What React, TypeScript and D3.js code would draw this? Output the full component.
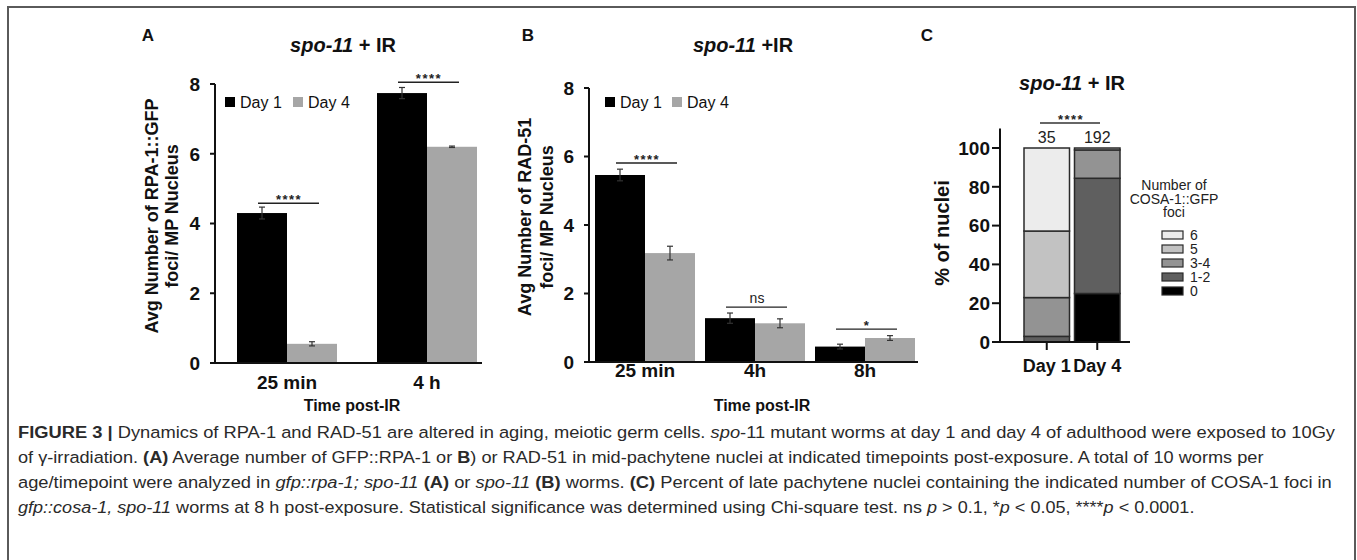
import React, { useLayoutEffect, useRef, useState } from "react";
import * as d3 from "d3";

// panel A: RPA-1::GFP foci
const groupsA = ["25 min", "4 h"];
const day1A = [4.3, 7.74];
const day4A = [0.55, 6.2];
const errDay1A = [0.17, 0.16];
const errDay4A = [0.06, 0.02];
const sigA = ["****", "****"];
const sigLevelA = [4.58, 8.05];

// panel B: RAD-51 foci
const groupsB = ["25 min", "4h", "8h"];
const day1B = [5.46, 1.28, 0.45];
const day4B = [3.18, 1.13, 0.7];
const errDay1B = [0.17, 0.15, 0.07];
const errDay4B = [0.2, 0.13, 0.07];
const sigB = ["****", "ns", "*"];
const sigLevelB = [5.81, 1.6, 0.96];

const seriesNames = ["Day 1", "Day 4"];
const yTicksAB = [0, 2, 4, 6, 8];

// panel C: COSA-1::GFP foci, % of nuclei
const daysC = ["Day 1", "Day 4"];
const fociKeys = ["0", "1-2", "3-4", "5", "6"];
const fociDay1 = [0, 2.9, 20.0, 34.3, 42.8];
const fociDay4 = [25.0, 59.4, 14.6, 1.0, 0];
const nucleiCounts = ["35", "192"];
const yTicksC = [0, 20, 40, 60, 80, 100];

const captionLines: [string, string][][] = [
  [["b", "FIGURE 3 | "], ["n", "Dynamics of RPA-1 and RAD-51 are altered in aging, meiotic germ cells. "], ["i", "spo"], ["n", "-11 mutant worms at day 1 and day 4 of adulthood were exposed to 10Gy"]],
  [["n", "of \u03b3-irradiation. "], ["b", "(A)"], ["n", " Average number of GFP::RPA-1 or "], ["b", "B"], ["n", ") or RAD-51 in mid-pachytene nuclei at indicated timepoints post-exposure. A total of 10 worms per"]],
  [["n", "age/timepoint were analyzed in "], ["i", "gfp::rpa-1; spo-11"], ["n", " "], ["b", "(A)"], ["n", " or "], ["i", "spo-11"], ["n", " "], ["b", "(B)"], ["n", " worms. "], ["b", "(C)"], ["n", " Percent of late pachytene nuclei containing the indicated number of COSA-1 foci in"]],
  [["i", "gfp::cosa-1, spo-11"], ["n", " worms at 8 h post-exposure. Statistical significance was determined using Chi-square test. ns "], ["i", "p"], ["n", " > 0.1, *"], ["i", "p"], ["n", " < 0.05, ****"], ["i", "p"], ["n", " < 0.0001."]],
];
const captionEnds = [1337, 1265, 1333, 1196];

const FONT = "'Liberation Sans', Arial, sans-serif";
const colors = ["#000000", "#a6a6a6"];
const fociColors = ["#000000", "#5f5f5f", "#939393", "#c2c2c2", "#ececec"];

type BarProps = {
  groups: string[];
  d1: number[];
  d4: number[];
  e1: number[];
  e4: number[];
  sig: string[];
  sigLevel: number[];
  xRange: [number, number];
  padInner: number;
  yRange: [number, number];
  axisX: [number, number];
  labelY: number;
  legendX: number;
  legendGap: number;
};

function GroupedBars(p: BarProps) {
  const x = d3.scaleBand().domain(p.groups).range(p.xRange).paddingInner(p.padInner);
  const xs = d3.scaleBand().domain(seriesNames).range([0, x.bandwidth()]);
  const y = d3.scaleLinear().domain([0, 8]).range(p.yRange);
  const vals = [p.d1, p.d4];
  const errs = [p.e1, p.e4];
  const y0 = y(0);
  return (
    <g fontFamily={FONT}>
      {p.groups.map((g, gi) =>
        seriesNames.map((s, si) => {
          const bx = (x(g) as number) + (xs(s) as number);
          const v = vals[si][gi];
          const e = errs[si][gi];
          const cx = bx + xs.bandwidth() / 2;
          return (
            <g key={g + s}>
              <rect x={bx} y={y(v)} width={xs.bandwidth()} height={y0 - y(v)} fill={colors[si]} />
              <line x1={cx} x2={cx} y1={y(v + e)} y2={y(Math.max(0, v - e))} stroke="#333" strokeWidth={1.2} />
              <line x1={cx - 3} x2={cx + 3} y1={y(v + e)} y2={y(v + e)} stroke="#333" strokeWidth={1.2} />
              <line x1={cx - 3} x2={cx + 3} y1={y(v - e)} y2={y(v - e)} stroke="#333" strokeWidth={1.2} />
            </g>
          );
        })
      )}
      {/* significance */}
      {p.groups.map((g, gi) => {
        const c1 = (x(g) as number) + xs.bandwidth() / 2;
        const c2 = c1 + xs.bandwidth();
        const ly = y(p.sigLevel[gi]);
        const mid = (c1 + c2) / 2 + 2;
        const isNs = p.sig[gi] === "ns";
        return (
          <g key={"sig" + g}>
            <line x1={c1 - 4} x2={c2 + 7} y1={ly} y2={ly} stroke="#222" strokeWidth={1.3} />
            <text
              x={mid}
              y={isNs ? ly - 4 : ly + 1}
              textAnchor="middle"
              fontSize={isNs ? 14 : 13}
              fontWeight={isNs ? "normal" : "bold"}
              letterSpacing={isNs ? 0 : 1.5}
              fill="#222"
            >
              {p.sig[gi]}
            </text>
          </g>
        );
      })}
      {/* axes */}
      <line x1={p.axisX[0]} x2={p.axisX[1]} y1={y0} y2={y0} stroke="#111" strokeWidth={2} />
      <line x1={p.axisX[0] + 3} x2={p.axisX[0] + 3} y1={y0} y2={y(8)} stroke="#111" strokeWidth={2} />
      {yTicksAB.map((t) => (
        <g key={"t" + t}>
          <line x1={p.axisX[0] - 2} x2={p.axisX[0] + 3} y1={y(t)} y2={y(t)} stroke="#111" strokeWidth={2} />
          <text x={p.axisX[0] - 12} y={y(t)} dy="0.36em" textAnchor="end" fontSize={19} fontWeight="bold" fill="#111">
            {t}
          </text>
        </g>
      ))}
      {p.groups.map((g) => (
        <text
          key={"xl" + g}
          x={(x(g) as number) + x.bandwidth() / 2}
          y={p.labelY}
          textAnchor="middle"
          fontSize={19}
          fontWeight="bold"
          fill="#111"
        >
          {g}
        </text>
      ))}
      {/* legend */}
      {seriesNames.map((s, si) => (
        <g key={"lg" + s} transform={`translate(${p.legendX + si * p.legendGap},102)`}>
          <rect x={-5} y={-5} width={10} height={10} fill={colors[si]} />
          <text x={10} y={0} dy="0.36em" fontSize={16} fill="#111">
            {s}
          </text>
        </g>
      ))}
    </g>
  );
}

function StackedC() {
  const x = d3.scaleBand().domain(daysC).range([1024, 1120]).paddingInner(0.099);
  const y = d3.scaleLinear().domain([0, 110]).range([342, 128.6]);
  const rows = daysC.map((d, i) => {
    const vals = i === 0 ? fociDay1 : fociDay4;
    const r: Record<string, number | string> = { day: d };
    fociKeys.forEach((k, ki) => (r[k] = vals[ki]));
    return r;
  });
  const stacked = d3.stack<Record<string, number | string>>().keys(fociKeys)(rows as any);
  const legendY = d3.scalePoint().domain([...fociKeys].reverse()).range([235, 291]);
  return (
    <g fontFamily={FONT}>
      {stacked.map((layer, li) =>
        layer.map((seg, di) => {
          const h = y(seg[0]) - y(seg[1]);
          if (h <= 0) return null;
          return (
            <rect
              key={layer.key + di}
              x={x(daysC[di]) as number}
              y={y(seg[1])}
              width={x.bandwidth()}
              height={h}
              fill={fociColors[li]}
              stroke="#2a2a2a"
              strokeWidth={1.5}
            />
          );
        })
      )}
      {nucleiCounts.map((n, i) => (
        <text key={"n" + n} x={(x(daysC[i]) as number) + x.bandwidth() / 2} y={143} textAnchor="middle" fontSize={16} fill="#222">
          {n}
        </text>
      ))}
      <line x1={1040} x2={1100} y1={123} y2={123} stroke="#333" strokeWidth={1.5} />
      <text x={1071} y={124} textAnchor="middle" fontSize={13} fontWeight="bold" letterSpacing={1.5} fill="#222">
        ****
      </text>
      <line x1={1000} x2={1130} y1={y(0)} y2={y(0)} stroke="#111" strokeWidth={2} />
      <line x1={1000} x2={1000} y1={y(0)} y2={y(110)} stroke="#111" strokeWidth={2} />
      {yTicksC.map((t) => (
        <g key={"c" + t}>
          <line x1={992} x2={1000} y1={y(t)} y2={y(t)} stroke="#111" strokeWidth={2} />
          <text x={990} y={y(t)} dy="0.36em" textAnchor="end" fontSize={19} fontWeight="bold" fill="#111">
            {t}
          </text>
        </g>
      ))}
      {daysC.map((d) => {
        const cx = (x(d) as number) + x.bandwidth() / 2;
        return (
          <g key={"xd" + d}>
            <line x1={cx} x2={cx} y1={y(0)} y2={y(0) + 8} stroke="#111" strokeWidth={2} />
            <text x={cx} y={372} textAnchor="middle" fontSize={18} fontWeight="bold" fill="#111">
              {d}
            </text>
          </g>
        );
      })}
      <text transform="translate(942,233) rotate(-90)" dy="0.36em" textAnchor="middle" fontSize={20} fontWeight="bold" fill="#111">
        % of nuclei
      </text>
      {["Number of", "COSA-1::GFP", "foci"].map((t, i) => (
        <text key={t} x={1174} y={190 + i * 13.5} textAnchor="middle" fontSize={14} fill="#222">
          {t}
        </text>
      ))}
      {[...fociKeys].reverse().map((k) => {
        const li = fociKeys.indexOf(k);
        const ly = legendY(k) as number;
        return (
          <g key={"lc" + k}>
            <rect x={1162} y={ly - 4} width={21} height={8} fill={fociColors[li]} stroke="#2a2a2a" strokeWidth={1.2} />
            <text x={1190} y={ly} dy="0.36em" fontSize={14} fill="#222">
              {k}
            </text>
          </g>
        );
      })}
    </g>
  );
}

function Title({ x, y, rest }: { x: number; y: number; rest: string }) {
  return (
    <text x={x} y={y} textAnchor="middle" fontFamily={FONT} fontSize={20} fontWeight="bold" fill="#111">
      <tspan fontStyle="italic">spo-11</tspan>
      <tspan>{rest}</tspan>
    </text>
  );
}

function YTitle({ x1, x2, y, l1, l2 }: { x1: number; x2: number; y: number; l1: string; l2: string }) {
  return (
    <g fontFamily={FONT} fontSize={18} fontWeight="bold" fill="#111" style={{ whiteSpace: "pre" }}>
      <text transform={`translate(${x1},${y}) rotate(-90)`} dy="0.36em" textAnchor="middle">
        {l1}
      </text>
      <text transform={`translate(${x2},${y}) rotate(-90)`} dy="0.36em" textAnchor="middle">
        {l2}
      </text>
    </g>
  );
}

// caption lines are squeezed horizontally to the widths seen in the figure
function Caption() {
  const refs = useRef<(SVGTextElement | null)[]>([]);
  const [scales, setScales] = useState<number[]>(captionEnds.map(() => 1));
  const x0 = 18;
  useLayoutEffect(() => {
    setScales(
      refs.current.map((el, i) => {
        if (!el) return 1;
        const w = el.getBBox().width;
        return w > 0 ? (captionEnds[i] - x0) / w : 1;
      })
    );
  }, []);
  return (
    <g fontFamily={FONT} fontSize={17} fill="#2a2a2a">
      {captionLines.map((line, li) => (
        <text
          key={li}
          ref={(el) => {
            refs.current[li] = el;
          }}
          transform={`translate(${x0},${438 + li * 25}) scale(${scales[li]},1)`}
          style={{ whiteSpace: "pre" }}
        >
          {line.map(([st, t], ti) => (
            <tspan key={ti} fontWeight={st === "b" ? "bold" : "normal"} fontStyle={st === "i" ? "italic" : "normal"}>
              {t}
            </tspan>
          ))}
        </text>
      ))}
    </g>
  );
}

export default function App() {
  return (
    <svg width={1357} height={560} style={{ position: "absolute", left: 0, top: 0, background: "#fff" }}>
      <rect x={8} y={7} width={1347} height={600} fill="none" stroke="#5a5a5a" strokeWidth={2} />

      <g fontFamily={FONT} fontWeight="bold" fontSize={17} fill="#111">
        <text x={148} y={41} textAnchor="middle">A</text>
        <text x={528} y={41} textAnchor="middle">B</text>
        <text x={927} y={41} textAnchor="middle">C</text>
      </g>

      <Title x={343} y={52} rest=" + IR" />
      <Title x={743} y={52} rest=" +IR" />
      <Title x={1072} y={90} rest=" + IR" />

      <GroupedBars
        groups={groupsA}
        d1={day1A}
        d4={day4A}
        e1={errDay1A}
        e4={errDay4A}
        sig={sigA}
        sigLevel={sigLevelA}
        xRange={[237, 477]}
        padInner={0.2857}
        yRange={[363, 84]}
        axisX={[212, 482]}
        labelY={389}
        legendX={230}
        legendGap={68}
      />
      <YTitle x1={152} x2={172} y={216} l1={"Avg Number of  RPA-1::GFP"} l2="foci/ MP Nucleus" />

      <GroupedBars
        groups={groupsB}
        d1={day1B}
        d4={day4B}
        e1={errDay1B}
        e4={errDay4B}
        sig={sigB}
        sigLevel={sigLevelB}
        xRange={[595, 915]}
        padInner={0.0909}
        yRange={[362, 88]}
        axisX={[586, 918]}
        labelY={377}
        legendX={610}
        legendGap={67}
      />
      <YTitle x1={525} x2={547} y={217} l1="Avg Number of RAD-51" l2="foci/ MP Nucleus" />

      <g fontFamily={FONT} fontSize={16} fontWeight="bold" fill="#111" textAnchor="middle">
        <text x={352} y={411}>Time post-IR</text>
        <text x={762} y={411}>Time post-IR</text>
      </g>

      <StackedC />

      <Caption />
    </svg>
  );
}
